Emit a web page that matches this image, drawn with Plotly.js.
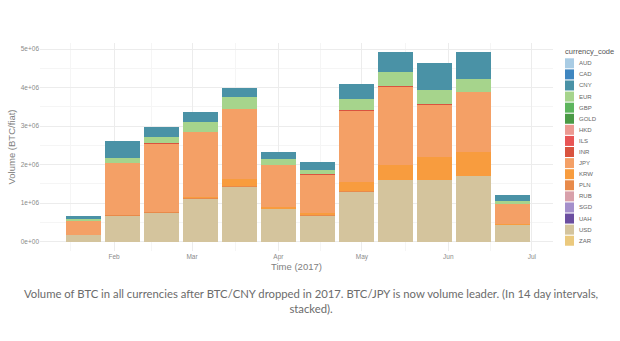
<!DOCTYPE html>
<html><head><meta charset="utf-8">
<script src="https://cdn.plot.ly/plotly-3.0.1.min.js"></script>
<style>html,body{margin:0;padding:0;background:#fff;overflow:hidden}#chart{width:620px;height:341px}</style>
</head><body><div id="chart"></div>
<script>
// ---- data ----
const binDates = ['2017-01-21','2017-02-04','2017-02-18','2017-03-04','2017-03-18','2017-04-01',
                  '2017-04-15','2017-04-29','2017-05-13','2017-05-27','2017-06-10','2017-06-24'];
const currencies = ['AUD','CAD','CNY','EUR','GBP','GOLD','HKD','ILS','INR','JPY','KRW','PLN','RUB','SGD','UAH','USD','ZAR'];
const usdVol = [170000, 660000, 740000, 1120000, 1410000, 850000, 680000, 1300000, 1600000, 1600000, 1700000, 430000];
const plnVol = [8000, 25000, 20000, 20000, 35000, 10000, 10000, 10000, 10000, 10000, 10000, 5000];
const krwVol = [5000, 10000, 10000, 10000, 170000, 40000, 50000, 230000, 380000, 580000, 620000, 20000];
const jpyVol = [362000, 1355000, 1775000, 1690000, 1820000, 1090000, 1000000, 1860000, 2030000, 1365000, 1545000, 525000];
const inrVol = [3000, 5000, 5000, 10000, 10000, 10000, 10000, 10000, 10000, 15000, 15000, 5000];
const eurVol = [45000, 130000, 160000, 260000, 310000, 150000, 120000, 290000, 380000, 360000, 330000, 80000];
const cnyVol = [70000, 430000, 260000, 260000, 230000, 180000, 190000, 400000, 500000, 720000, 690000, 140000];
const yTickVals = [0, 1000000, 2000000, 3000000, 4000000, 5000000];
const yTickText = ['0e+00','1e+06','2e+06','3e+06','4e+06','5e+06'];
const yMinorVals = [500000, 1500000, 2500000, 3500000, 4500000];
const xTickVals = ['2017-02-01','2017-03-01','2017-04-01','2017-05-01','2017-06-01','2017-07-01'];
const xTickText = ['Feb','Mar','Apr','May','Jun','Jul'];
const xMinorVals = ['2017-01-16 12:00','2017-02-14 12:00','2017-03-16 12:00','2017-04-16','2017-05-16 12:00','2017-06-16'];
const legendTitle = 'currency_code';
const xTitle = 'Time (2017)';
const yTitle = 'Volume (BTC/fiat)';
const caption = 'Volume of BTC in all currencies after BTC/CNY dropped in 2017. BTC/JPY is now volume leader. (In 14 day intervals,<br>stacked).';

// ---- styles ----
const palette = {AUD:'#a9cce4',CAD:'#3f86c0',CNY:'#4a92a6',EUR:'#a6d48c',GBP:'#5db55d',GOLD:'#4a9a45',
  HKD:'#ec9a92',ILS:'#e85555',INR:'#d9533f',JPY:'#f4a066',KRW:'#f89c3e',PLN:'#e88a4a',RUB:'#d8a0aa',
  SGD:'#a48fcb',UAH:'#6b4ea0',USD:'#d4c49d',ZAR:'#ebc97d'};
const series = {USD:usdVol, PLN:plnVol, KRW:krwVol, JPY:jpyVol, INR:inrVol, EUR:eurVol, CNY:cnyVol};

const W = 620, H = 341;
const M = {l:40, r:67, t:43, b:90};
const pw = W - M.l - M.r, ph = H - M.t - M.b;
const px2x = p => (p - M.l) / pw;
const px2y = p => (H - M.b - p) / ph;

const traces = [];
currencies.slice().reverse().forEach(c => {
  if (!series[c]) return;
  traces.push({type:'bar', name:c, x:binDates, y:series[c], marker:{color:palette[c], line:{width:0}},
    showlegend:false, hoverinfo:'x+y+name'});
});

const shapes = [], annotations = [];
currencies.forEach((c, i) => {
  const yc = 63.3 + i * 11.09;
  shapes.push({type:'rect', xref:'paper', yref:'paper', x0:px2x(565), x1:px2x(574),
    y0:px2y(yc + 5), y1:px2y(yc - 5), fillcolor:palette[c], line:{width:0}});
  annotations.push({xref:'paper', yref:'paper', x:px2x(577), y:px2y(yc), text:c, showarrow:false,
    xanchor:'left', yanchor:'middle', font:{family:'Liberation Sans, Arial, sans-serif', size:6, color:'#666'}});
});
annotations.push({xref:'paper', yref:'paper', x:px2x(563), y:px2y(52), text:legendTitle, showarrow:false,
  xanchor:'left', yanchor:'middle', font:{family:'Liberation Sans, Arial, sans-serif', size:7.5, color:'#555'}});
annotations.push({xref:'paper', yref:'paper', x:px2x(311), y:px2y(300.5), text:caption, showarrow:false,
  xanchor:'center', yanchor:'middle', align:'center',
  font:{family:'Lato, sans-serif', size:11.3, color:'#6b6b6b'}});

const layout = {
  width:W, height:H, margin:M, paper_bgcolor:'#fff', plot_bgcolor:'#fff',
  barmode:'stack', bargap:0.1, showlegend:false,
  font:{family:'Liberation Sans, Arial, sans-serif', color:'#777'},
  xaxis:{type:'date', range:['2017-01-05 10:30','2017-07-08 14:00'], tickmode:'array', tickvals:xTickVals,
    ticktext:xTickText, ticks:'', tickfont:{size:6.5, color:'#8a8a8a'}, showgrid:true, gridcolor:'#ececec', gridwidth:1,
    zeroline:false, showline:false, fixedrange:true,
    minor:{tickvals:xMinorVals, showgrid:true, gridcolor:'#f5f5f5', gridwidth:1, ticks:''},
    title:{text:xTitle, font:{size:9.5, color:'#808080'}, standoff:3}, automargin:false},
  yaxis:{range:[-241000, 5156000], tickmode:'array', tickvals:yTickVals, ticktext:yTickText, ticks:'',
    tickfont:{size:6.5, color:'#8a8a8a'}, showgrid:true, gridcolor:'#ececec', gridwidth:1, zeroline:false, showline:false,
    fixedrange:true,
    minor:{tickvals:yMinorVals, showgrid:true, gridcolor:'#f5f5f5', gridwidth:1, ticks:''},
    title:{text:yTitle, font:{size:9.5, color:'#808080'}, standoff:3}, automargin:false},
  shapes:shapes, annotations:annotations
};
Plotly.newPlot('chart', traces, layout, {displayModeBar:false, staticPlot:true});
</script></body></html>
